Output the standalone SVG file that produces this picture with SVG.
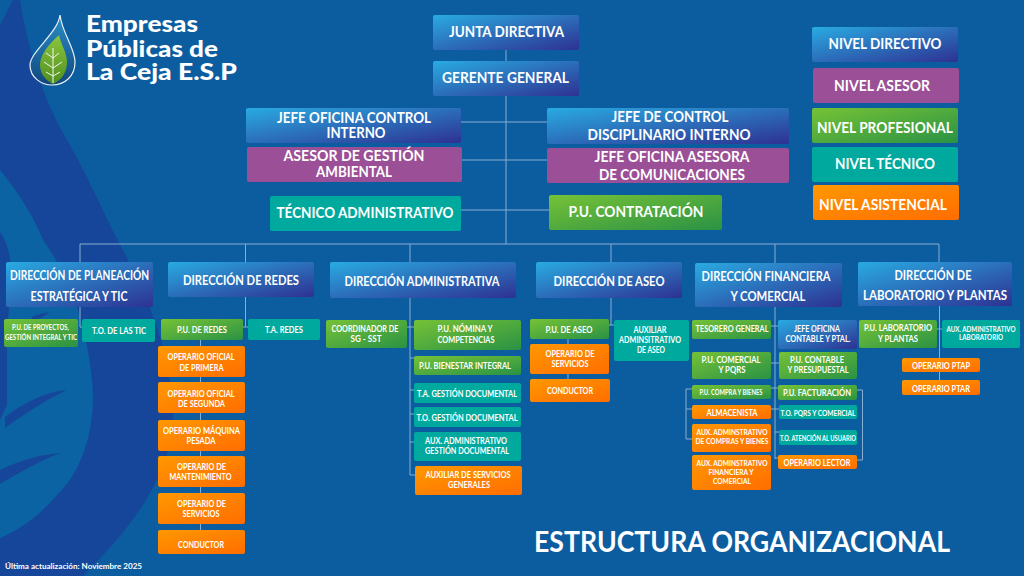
<svg xmlns="http://www.w3.org/2000/svg" width="1024" height="576" viewBox="0 0 1024 576">
<style>
text{font-family:"Lato","Noto Sans",sans-serif;font-weight:700;fill:#fff;text-anchor:middle}
.bl{fill:url(#gb)}.gr{fill:url(#gg)}.te{fill:#00a99d}.or{fill:url(#go)}.pu{fill:#9b4f96}
.c{fill:none;stroke:#86aed2;stroke-width:1}
.s16{font-size:15.500px}.s13{font-size:13.500px}.s8{font-size:8.500px}.s7{font-size:7.500px}.s6{font-size:6.500px}
.logo{font-size:22px;text-anchor:start;font-weight:900}
</style>
<defs>
<linearGradient id="gb" x1="0" y1="0" x2="1" y2="1"><stop offset="0" stop-color="#29abe2"/><stop offset="1" stop-color="#2e3192"/></linearGradient>
<linearGradient id="gg" x1="0" y1="0" x2="1" y2="1"><stop offset="0" stop-color="#76c236"/><stop offset="1" stop-color="#2a9245"/></linearGradient>
<linearGradient id="go" x1="0" y1="0" x2="1" y2="1"><stop offset="0" stop-color="#ff9800"/><stop offset="1" stop-color="#ff6d00"/></linearGradient>
<linearGradient id="gd" x1="0" y1="0" x2="0" y2="1"><stop offset="0" stop-color="#2a8fc8"/><stop offset="1" stop-color="#11467f"/></linearGradient>
<linearGradient id="gl" x1="0" y1="0" x2="0" y2="1"><stop offset="0" stop-color="#8cc63f"/><stop offset="1" stop-color="#4f8f1f"/></linearGradient>
</defs>
<rect width="1024" height="576" fill="#0c5da0"/>
<g id="background">
<path d="M13 0H20C30 60 45 100 63 133C85 170 100 205 115 235C145 290 172 350 173 415C173 460 150 510 83 576H0V25Z" fill="#16469a"/>
<path d="M0 170C18 192 33 215 43 240C72 280 90 335 93 395C93 440 78 475 57 495C40 515 20 530 0 538V420L7 405V345C7 300 20 260 0 232Z" fill="#0b63a3"/>
<path d="M5 417C25 402 45 392 67 390C45 400 25 414 5 428ZM0 470C20 460 40 455 60 453C40 461 20 472 0 484ZM32 317C38 314 44 313 50 312C45 316 38 319 32 322Z" fill="#16469a"/>
</g>
<g id="logo">
<path d="M60 15C58 33 30 52 30 65C30 78 42 85 52 85C65 85 75 76 75 62C75 48 62 33 60 15Z" fill="url(#gd)" stroke="#e8f0f4" stroke-width="1.200"/>
<path d="M59 35C48 45 40 55 40 65C40 75 48 82 53 84C62 80 67 72 67 62C67 52 61 45 59 35Z" fill="url(#gl)"/>
<path d="M53 83V48M53 58L46 53M53 58L59 53M53 68L44 62M53 68L62 62M53 76L46 72M53 76L60 72" fill="none" stroke="#f4f8ee" stroke-width="1"/>
<text class="logo" x="86" y="32" textLength="112" lengthAdjust="spacingAndGlyphs">Empresas</text>
<text class="logo" x="86" y="57" textLength="132" lengthAdjust="spacingAndGlyphs">Públicas de</text>
<text class="logo" x="86" y="80" textLength="151" lengthAdjust="spacingAndGlyphs">La Ceja E.S.P</text>
</g>
<g id="connectors">
<path class="c" d="M506 50V244M461 122H547M462 160H547M461 210H549"/>
<path class="c" d="M80 262V244H939V262M245.500 244V262M410 244V262M611 244V262M775 244V263"/>
<path class="c" d="M80 307V327H82M245.500 297V327H243M245.500 327H248M200.500 340V530"/>
<path class="c" d="M410 298V475H415M407 327H414M410 358H414M410 390H414M410 414H414M410 442H414"/>
<path class="c" d="M611 298V325H609M611 325H614M568 339V379"/>
<path class="c" d="M775 307V459M771 326H778M771 363H779M771 388H778M771 409H779M775 432H779M775 458H778"/>
<path class="c" d="M692 389H686V439H692M686 409H692M857 390H862.500V460H857"/>
<path class="c" d="M939.500 306V380M937 329H942"/>
</g>
<g id="junta"><rect class="bl" x="433" y="15" width="146" height="35" rx="2"/><text class="s16" x="506.500" y="37" textLength="115" lengthAdjust="spacingAndGlyphs">JUNTA DIRECTIVA</text></g>
<g id="gerente"><rect class="bl" x="433" y="61" width="146" height="35" rx="2"/><text class="s16" x="505.500" y="83" textLength="127" lengthAdjust="spacingAndGlyphs">GERENTE GENERAL</text></g>
<g id="jefe-control-interno"><rect class="bl" x="246" y="108" width="215" height="35" rx="2"/><text class="s16" x="354" y="122.500" textLength="154" lengthAdjust="spacingAndGlyphs">JEFE OFICINA CONTROL</text><text class="s16" x="356" y="138" textLength="59" lengthAdjust="spacingAndGlyphs">INTERNO</text></g>
<g id="asesor-ambiental"><rect class="pu" x="247" y="147" width="215" height="35" rx="2"/><text class="s16" x="354" y="161" textLength="141" lengthAdjust="spacingAndGlyphs">ASESOR DE GESTIÓN</text><text class="s16" x="354" y="177" textLength="76" lengthAdjust="spacingAndGlyphs">AMBIENTAL</text></g>
<g id="tecnico-admin"><rect class="te" x="270" y="196" width="191" height="35" rx="2"/><text class="s16" x="365" y="218" textLength="177" lengthAdjust="spacingAndGlyphs">TÉCNICO ADMINISTRATIVO</text></g>
<g id="jefe-disciplinario"><rect class="bl" x="547" y="108" width="242" height="36" rx="2"/><text class="s16" x="670" y="122" textLength="117" lengthAdjust="spacingAndGlyphs">JEFE DE CONTROL</text><text class="s16" x="669" y="140" textLength="163" lengthAdjust="spacingAndGlyphs">DISCIPLINARIO INTERNO</text></g>
<g id="jefe-comunicaciones"><rect class="pu" x="547" y="148" width="242" height="35" rx="2"/><text class="s16" x="672" y="162" textLength="155" lengthAdjust="spacingAndGlyphs">JEFE OFICINA ASESORA</text><text class="s16" x="672" y="180" textLength="146" lengthAdjust="spacingAndGlyphs">DE COMUNICACIONES</text></g>
<g id="pu-contratacion"><rect class="gr" x="549" y="195" width="173" height="35" rx="2"/><text class="s16" x="636" y="217" textLength="135" lengthAdjust="spacingAndGlyphs">P.U. CONTRATACIÓN</text></g>
<g id="nivel-directivo"><rect class="bl" x="812" y="27" width="146" height="35" rx="2"/><text class="s16" x="885" y="49" textLength="113" lengthAdjust="spacingAndGlyphs">NIVEL DIRECTIVO</text></g>
<g id="nivel-asesor"><rect class="pu" x="813" y="68" width="146" height="35" rx="2"/><text class="s16" x="882" y="91" textLength="96" lengthAdjust="spacingAndGlyphs">NIVEL ASESOR</text></g>
<g id="nivel-profesional"><rect class="gr" x="812" y="108" width="146" height="35" rx="2"/><text class="s16" x="885" y="133" textLength="136" lengthAdjust="spacingAndGlyphs">NIVEL PROFESIONAL</text></g>
<g id="nivel-tecnico"><rect class="te" x="812" y="147" width="146" height="35" rx="2"/><text class="s16" x="885" y="169" textLength="100" lengthAdjust="spacingAndGlyphs">NIVEL TÉCNICO</text></g>
<g id="nivel-asistencial"><rect class="or" x="813" y="185" width="146" height="35" rx="2"/><text class="s16" x="883" y="210" textLength="128" lengthAdjust="spacingAndGlyphs">NIVEL ASISTENCIAL</text></g>
<g id="dir-planeacion"><rect class="bl" x="6" y="262" width="147" height="45" rx="2"/><text class="s13" x="79.500" y="280" textLength="139" lengthAdjust="spacingAndGlyphs">DIRECCIÓN DE PLANEACIÓN</text><text class="s13" x="79" y="301" textLength="97" lengthAdjust="spacingAndGlyphs">ESTRATÉGICA Y TIC</text></g>
<g id="pu-proyectos"><rect class="gr" x="4" y="319" width="74" height="28" rx="2"/><text class="s6" x="40.500" y="330" textLength="57" lengthAdjust="spacingAndGlyphs">P.U. DE PROYECTOS,</text><text class="s6" x="41" y="340" textLength="72" lengthAdjust="spacingAndGlyphs">GESTIÓN INTEGRAL Y TIC</text></g>
<g id="to-tic"><rect class="te" x="82" y="319" width="73" height="23" rx="2"/><text class="s8" x="119" y="334" textLength="54" lengthAdjust="spacingAndGlyphs">T.O. DE LAS TIC</text></g>
<g id="dir-redes"><rect class="bl" x="168" y="262" width="146" height="35" rx="2"/><text class="s13" x="241" y="285" textLength="116" lengthAdjust="spacingAndGlyphs">DIRECCIÓN DE REDES</text></g>
<g id="pu-redes"><rect class="gr" x="161" y="319" width="82" height="21" rx="2"/><text class="s8" x="202" y="333" textLength="50" lengthAdjust="spacingAndGlyphs">P.U. DE REDES</text></g>
<g id="ta-redes"><rect class="te" x="248" y="319" width="72" height="21" rx="2"/><text class="s8" x="284" y="333" textLength="38" lengthAdjust="spacingAndGlyphs">T.A. REDES</text></g>
<g id="op-primera"><rect class="or" x="158" y="346" width="87" height="31" rx="2"/><text class="s8" x="201" y="360" textLength="67" lengthAdjust="spacingAndGlyphs">OPERARIO OFICIAL</text><text class="s8" x="201.500" y="370.500" textLength="44" lengthAdjust="spacingAndGlyphs">DE PRIMERA</text></g>
<g id="op-segunda"><rect class="or" x="158" y="382" width="87" height="31" rx="2"/><text class="s8" x="201" y="397" textLength="67" lengthAdjust="spacingAndGlyphs">OPERARIO OFICIAL</text><text class="s8" x="201.500" y="407" textLength="47" lengthAdjust="spacingAndGlyphs">DE SEGUNDA</text></g>
<g id="op-maquina"><rect class="or" x="158" y="420" width="87" height="31" rx="2"/><text class="s8" x="201.500" y="434" textLength="77" lengthAdjust="spacingAndGlyphs">OPERARIO MÁQUINA</text><text class="s8" x="201" y="444" textLength="29" lengthAdjust="spacingAndGlyphs">PESADA</text></g>
<g id="op-mantenimiento"><rect class="or" x="158" y="456" width="87" height="31" rx="2"/><text class="s8" x="201.500" y="470" textLength="49" lengthAdjust="spacingAndGlyphs">OPERARIO DE</text><text class="s8" x="200.500" y="480" textLength="62" lengthAdjust="spacingAndGlyphs">MANTENIMIENTO</text></g>
<g id="op-servicios"><rect class="or" x="158" y="493" width="87" height="31" rx="2"/><text class="s8" x="201.500" y="507" textLength="49" lengthAdjust="spacingAndGlyphs">OPERARIO DE</text><text class="s8" x="201" y="517" textLength="37" lengthAdjust="spacingAndGlyphs">SERVICIOS</text></g>
<g id="conductor-redes"><rect class="or" x="158" y="530" width="87" height="24" rx="2"/><text class="s8" x="201" y="548" textLength="46" lengthAdjust="spacingAndGlyphs">CONDUCTOR</text></g>
<g id="dir-admin"><rect class="bl" x="330" y="262" width="186" height="36" rx="2"/><text class="s13" x="422" y="286" textLength="155" lengthAdjust="spacingAndGlyphs">DIRECCIÓN ADMINISTRATIVA</text></g>
<g id="coord-sst"><rect class="gr" x="326" y="320" width="81" height="28" rx="2"/><text class="s8" x="365" y="332" textLength="67" lengthAdjust="spacingAndGlyphs">COORDINADOR DE</text><text class="s8" x="366" y="342" textLength="31" lengthAdjust="spacingAndGlyphs">SG - SST</text></g>
<g id="pu-nomina"><rect class="gr" x="414" y="320" width="107" height="30" rx="2"/><text class="s8" x="465" y="332" textLength="55" lengthAdjust="spacingAndGlyphs">P.U. NÓMINA Y</text><text class="s8" x="466" y="343" textLength="57" lengthAdjust="spacingAndGlyphs">COMPETENCIAS</text></g>
<g id="pu-bienestar"><rect class="gr" x="414" y="356" width="107" height="19" rx="2"/><text class="s8" x="465" y="369" textLength="92" lengthAdjust="spacingAndGlyphs">P.U. BIENESTAR INTEGRAL</text></g>
<g id="ta-gestion"><rect class="te" x="414" y="383" width="107" height="20" rx="2"/><text class="s8" x="467" y="397" textLength="100" lengthAdjust="spacingAndGlyphs">T.A. GESTIÓN DOCUMENTAL</text></g>
<g id="to-gestion"><rect class="te" x="414" y="407" width="107" height="20" rx="2"/><text class="s8" x="467" y="421" textLength="101" lengthAdjust="spacingAndGlyphs">T.O. GESTIÓN DOCUMENTAL</text></g>
<g id="aux-gestion"><rect class="te" x="414" y="432" width="107" height="29" rx="2"/><text class="s8" x="466" y="444" textLength="82" lengthAdjust="spacingAndGlyphs">AUX. ADMINISTRATIVO</text><text class="s8" x="467" y="454" textLength="84" lengthAdjust="spacingAndGlyphs">GESTIÓN DOCUMENTAL</text></g>
<g id="aux-generales"><rect class="or" x="415" y="466" width="107" height="29" rx="2"/><text class="s8" x="468" y="478" textLength="85" lengthAdjust="spacingAndGlyphs">AUXILIAR DE SERVICIOS</text><text class="s8" x="469" y="488" textLength="42" lengthAdjust="spacingAndGlyphs">GENERALES</text></g>
<g id="dir-aseo"><rect class="bl" x="536" y="262" width="146" height="36" rx="2"/><text class="s13" x="609" y="286" textLength="111" lengthAdjust="spacingAndGlyphs">DIRECCIÓN DE ASEO</text></g>
<g id="pu-aseo"><rect class="gr" x="530" y="319" width="79" height="20" rx="2"/><text class="s8" x="569" y="333" textLength="47" lengthAdjust="spacingAndGlyphs">P.U. DE ASEO</text></g>
<g id="aux-aseo"><rect class="te" x="614" y="320" width="75" height="41" rx="2"/><text class="s8" x="650" y="333" textLength="33" lengthAdjust="spacingAndGlyphs">AUXILIAR</text><text class="s8" x="650" y="343" textLength="62" lengthAdjust="spacingAndGlyphs">ADMINSITRATIVO</text><text class="s8" x="651" y="353" textLength="28" lengthAdjust="spacingAndGlyphs">DE ASEO</text></g>
<g id="op-serv-aseo"><rect class="or" x="530" y="344" width="79" height="30" rx="2"/><text class="s8" x="570" y="357" textLength="49" lengthAdjust="spacingAndGlyphs">OPERARIO DE</text><text class="s8" x="570" y="367" textLength="37" lengthAdjust="spacingAndGlyphs">SERVICIOS</text></g>
<g id="conductor-aseo"><rect class="or" x="530" y="379" width="80" height="23" rx="2"/><text class="s8" x="570" y="394" textLength="46" lengthAdjust="spacingAndGlyphs">CONDUCTOR</text></g>
<g id="dir-financiera"><rect class="bl" x="695" y="263" width="147" height="44" rx="2"/><text class="s13" x="766" y="281" textLength="129" lengthAdjust="spacingAndGlyphs">DIRECCIÓN FINANCIERA</text><text class="s13" x="768" y="301" textLength="75" lengthAdjust="spacingAndGlyphs">Y COMERCIAL</text></g>
<g id="tesorero"><rect class="gr" x="692" y="320" width="79" height="19" rx="2"/><text class="s8" x="732" y="332" textLength="73" lengthAdjust="spacingAndGlyphs">TESORERO GENERAL</text></g>
<g id="jefe-contable"><rect class="bl" x="778" y="320" width="79" height="29" rx="2"/><text class="s8" x="817" y="332" textLength="46" lengthAdjust="spacingAndGlyphs">JEFE OFICINA</text><text class="s8" x="818" y="342" textLength="65" lengthAdjust="spacingAndGlyphs">CONTABLE Y PTAL.</text></g>
<g id="pu-comercial"><rect class="gr" x="692" y="352" width="79" height="27" rx="2"/><text class="s8" x="731" y="363" textLength="59" lengthAdjust="spacingAndGlyphs">P.U. COMERCIAL</text><text class="s8" x="732" y="373" textLength="27" lengthAdjust="spacingAndGlyphs">Y PQRS</text></g>
<g id="pu-contable"><rect class="gr" x="779" y="352" width="78" height="27" rx="2"/><text class="s8" x="817" y="363" textLength="54" lengthAdjust="spacingAndGlyphs">P.U. CONTABLE</text><text class="s8" x="818" y="373" textLength="61" lengthAdjust="spacingAndGlyphs">Y PRESUPUESTAL</text></g>
<g id="pu-compra"><rect class="gr" x="692" y="385" width="79" height="14" rx="2"/><text class="s6" x="731" y="395" textLength="63" lengthAdjust="spacingAndGlyphs">P.U. COMPRA Y BIENES</text></g>
<g id="pu-facturacion"><rect class="gr" x="778" y="385" width="79" height="15" rx="2"/><text class="s8" x="817" y="396" textLength="68" lengthAdjust="spacingAndGlyphs">P.U. FACTURACIÓN</text></g>
<g id="almacenista"><rect class="or" x="692" y="405" width="79" height="14" rx="2"/><text class="s8" x="732" y="416" textLength="51" lengthAdjust="spacingAndGlyphs">ALMACENISTA</text></g>
<g id="to-pqrs"><rect class="te" x="779" y="405" width="78" height="14" rx="2"/><text class="s7" x="818" y="416" textLength="75" lengthAdjust="spacingAndGlyphs">T.O. PQRS Y COMERCIAL</text></g>
<g id="aux-compras"><rect class="or" x="692" y="424" width="79" height="28" rx="2"/><text class="s7" x="732" y="435" textLength="71" lengthAdjust="spacingAndGlyphs">AUX. ADMINSTRATIVO</text><text class="s7" x="732" y="444" textLength="73" lengthAdjust="spacingAndGlyphs">DE COMPRAS Y BIENES</text></g>
<g id="to-atencion"><rect class="te" x="779" y="430" width="78" height="15" rx="2"/><text class="s6" x="818" y="441" textLength="76" lengthAdjust="spacingAndGlyphs">T.O. ATENCIÓN AL USUARIO</text></g>
<g id="aux-financiera"><rect class="or" x="692" y="455" width="79" height="35" rx="2"/><text class="s7" x="732" y="466" textLength="71" lengthAdjust="spacingAndGlyphs">AUX. ADMINSTRATIVO</text><text class="s7" x="731" y="475" textLength="45" lengthAdjust="spacingAndGlyphs">FINANCIERA Y</text><text class="s7" x="732" y="484" textLength="38" lengthAdjust="spacingAndGlyphs">COMERCIAL</text></g>
<g id="op-lector"><rect class="or" x="778" y="455" width="79" height="14" rx="2"/><text class="s8" x="817" y="466" textLength="67" lengthAdjust="spacingAndGlyphs">OPERARIO LECTOR</text></g>
<g id="dir-laboratorio"><rect class="bl" x="858" y="262" width="154" height="44" rx="2"/><text class="s13" x="933" y="280" textLength="77" lengthAdjust="spacingAndGlyphs">DIRECCIÓN DE</text><text class="s13" x="935" y="300" textLength="144" lengthAdjust="spacingAndGlyphs">LABORATORIO Y PLANTAS</text></g>
<g id="pu-laboratorio"><rect class="gr" x="859" y="320" width="78" height="28" rx="2"/><text class="s8" x="898" y="331" textLength="68" lengthAdjust="spacingAndGlyphs">P.U. LABORATORIO</text><text class="s8" x="898" y="342" textLength="40" lengthAdjust="spacingAndGlyphs">Y PLANTAS</text></g>
<g id="aux-laboratorio"><rect class="te" x="942" y="320" width="78" height="28" rx="2"/><text class="s7" x="981" y="332" textLength="69" lengthAdjust="spacingAndGlyphs">AUX. ADMINISTRATIVO</text><text class="s7" x="981" y="340" textLength="44" lengthAdjust="spacingAndGlyphs">LABORATORIO</text></g>
<g id="op-ptap"><rect class="or" x="902" y="358" width="78" height="14" rx="2"/><text class="s8" x="941" y="369" textLength="58" lengthAdjust="spacingAndGlyphs">OPERARIO PTAP</text></g>
<g id="op-ptar"><rect class="or" x="902" y="380" width="78" height="15" rx="2"/><text class="s8" x="941" y="392" textLength="58" lengthAdjust="spacingAndGlyphs">OPERARIO PTAR</text></g>
<text x="742" y="552" textLength="416" lengthAdjust="spacingAndGlyphs" style="font-size:28px">ESTRUCTURA ORGANIZACIONAL</text>
<text x="5" y="569" textLength="137" lengthAdjust="spacingAndGlyphs" style="font-size:8px;text-anchor:start">Última actualización: Noviembre 2025</text>
</svg>
